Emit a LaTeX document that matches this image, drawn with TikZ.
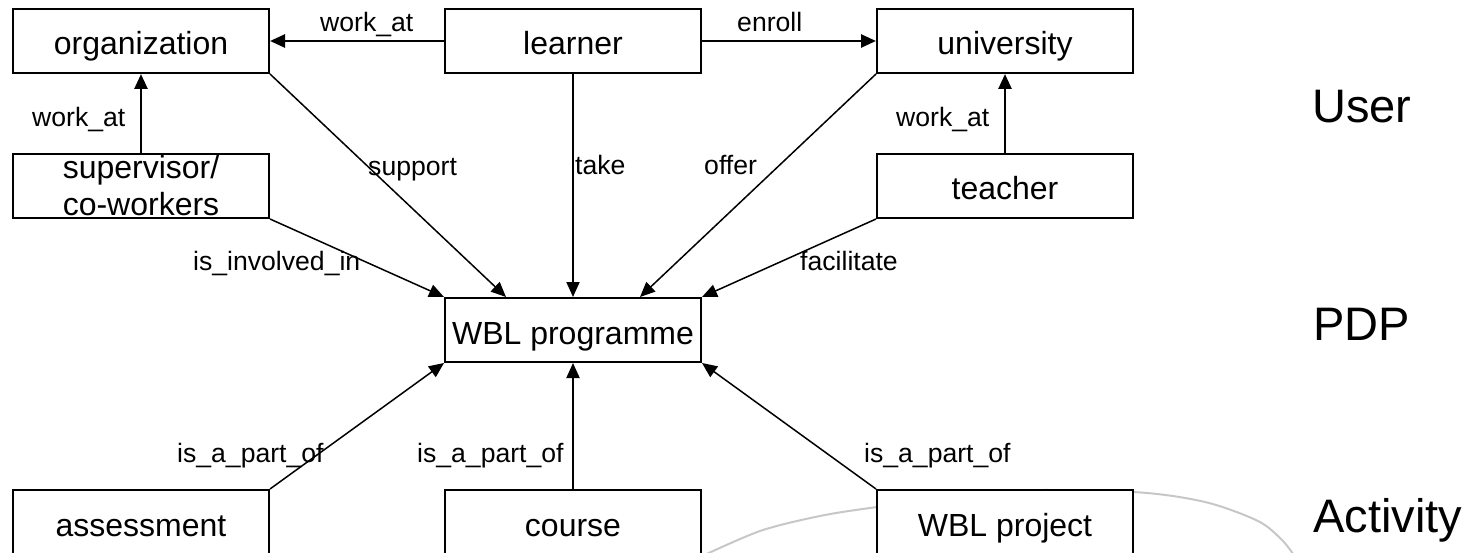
\documentclass[tikz,border=0pt]{standalone}
\usepackage{fontspec}
\setmainfont{Liberation Sans}
\usetikzlibrary{arrows.meta}
\begin{document}
\begin{tikzpicture}[x=1pt,y=-1pt,
  boxbase/.style={draw, line width=2pt, fill=white, minimum width=256pt,
    minimum height=64pt, inner sep=0pt, font=\fontsize{32}{37}\selectfont},
  box/.style={boxbase, text height=29pt, text depth=1pt},
  lbl/.style={anchor=base west, inner sep=0pt, font=\fontsize{26.6}{30}\selectfont},
  big/.style={anchor=base west, inner sep=0pt, font=\fontsize{47}{52}\selectfont},
  tip/.style={-{Triangle[length=15pt,width=13pt]}},
  thinarr/.style={tip, line width=1.5pt},
  midarr/.style={tip, line width=2pt},
  thickarr/.style={tip, line width=2.6pt}]
\useasboundingbox (0,0) rectangle (1479,553);
% faint background arc
\draw[black!22, line width=2pt] plot[smooth] coordinates
  {(698,558) (760,531) (820,516) (877,507) (1000,491) (1133,492) (1205,502) (1258,521) (1282,540) (1296,558)};
% nodes
\node[box] (org) at (141,41) {organization};
\node[box] (lea) at (573,41) {learner};
\node[box] (uni) at (1005,41) {university};
\node[boxbase, align=center] (sup) at (141,186) {supervisor/\\co-workers};
\node[box] (tea) at (1005,186) {teacher};
\node[box] (wbl) at (573,330) {WBL programme};
\node[box] (ass) at (141,522) {assessment};
\node[box] (cou) at (573,522) {course};
\node[box] (prj) at (1005,522) {WBL project};
\coordinate (wtl) at ([xshift=62pt]wbl.north west);
\coordinate (wtr) at ([xshift=-62pt]wbl.north east);
% connectors
\draw[thickarr] (lea.west) -- (org.east);
\draw[thickarr] (lea.east) -- (uni.west);
\draw[thickarr] (sup.north) -- (org.south);
\draw[thickarr] (tea.north) -- (uni.south);
\draw[midarr] (lea.south) -- (wbl.north);
\draw[thinarr] (org.south east) -- (wtl);
\draw[thinarr] (uni.south west) -- (wtr);
\draw[thinarr] (sup.south east) -- (wbl.north west);
\draw[thinarr] (tea.south west) -- (wbl.north east);
\draw[thinarr] (ass.north east) -- (wbl.south west);
\draw[midarr] (cou.north) -- (wbl.south);
\draw[thinarr] (prj.north west) -- (wbl.south east);
% labels
\node[lbl] (l1) at (320,32) {work\_at};
\node[lbl] (l2) at (737,32) {enroll};
\node[lbl] (l3) at (32,127) {work\_at};
\node[lbl] (l4) at (896,127) {work\_at};
\node[lbl] (l5) at (368,176) {support};
\node[lbl] (l6) at (575,175) {take};
\node[lbl] (l7) at (704,175) {offer};
\node[lbl] (l8) at (193,270) {is\_involved\_in};
\node[lbl] (l9) at (800,270) {facilitate};
\node[lbl] (l10) at (177,462) {is\_a\_part\_of};
\node[lbl] (l11) at (417,462) {is\_a\_part\_of};
\node[lbl] (l12) at (864,462) {is\_a\_part\_of};
% layer names
\node[big] (u) at (1312,123) {User};
\node[big] (p) at (1313,340) {PDP};
\node[big] (a) at (1313,532) {Activity};
\end{tikzpicture}
\end{document}
